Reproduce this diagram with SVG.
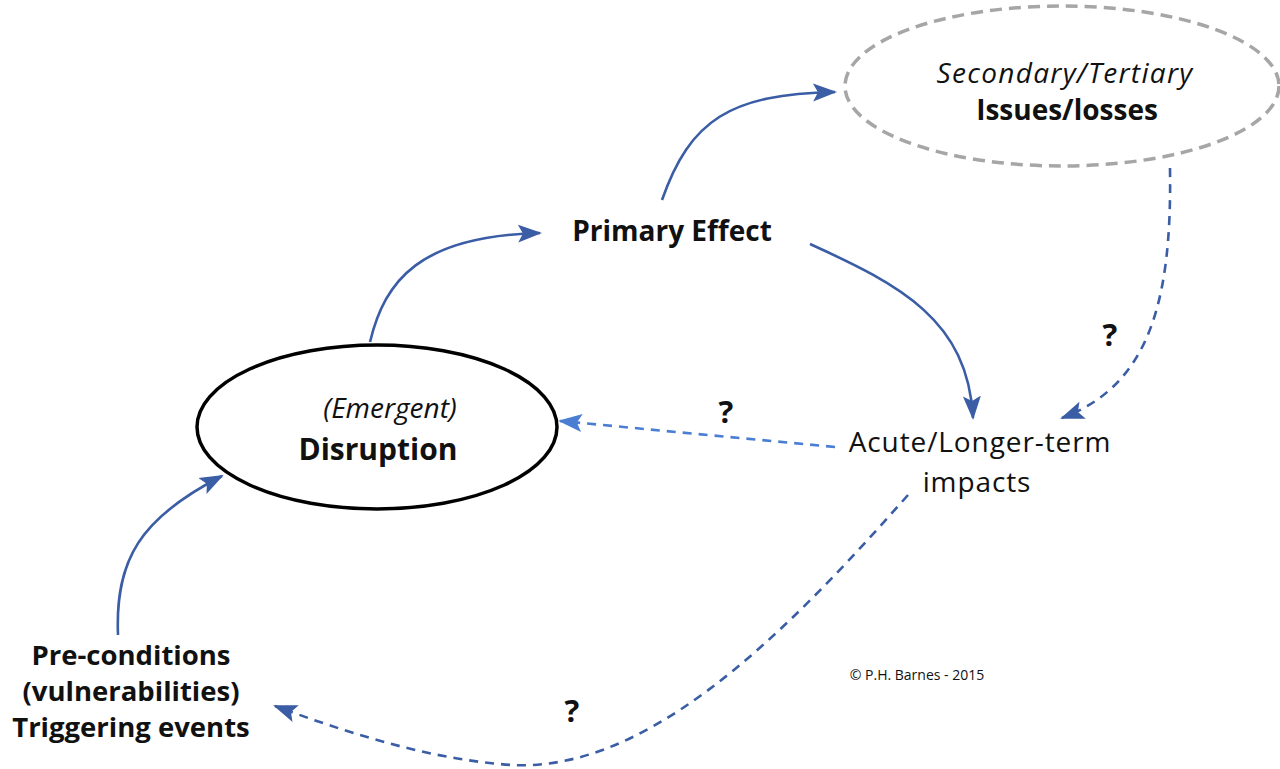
<svg xmlns="http://www.w3.org/2000/svg" width="1280" height="769" viewBox="0 0 1280 769">
<style>
.t{font-family:"Open Sans","Liberation Sans",sans-serif;fill:#111;text-anchor:middle}
.b{font-weight:bold}
.i{font-style:italic}
.c{fill:none;stroke:#3a5da5;stroke-width:2.6}
.d{stroke-dasharray:9,7}
</style>
<defs>
<marker id="ah" markerUnits="userSpaceOnUse" markerWidth="26" markerHeight="20" refX="22" refY="9" orient="auto" viewBox="0 0 26 18">
<path d="M0,0 L24,9 L0,18 L5,9 Z" fill="#3a5da5"/>
</marker>
<marker id="ah2" markerUnits="userSpaceOnUse" markerWidth="26" markerHeight="20" refX="22" refY="9" orient="auto" viewBox="0 0 26 18">
<path d="M0,0 L24,9 L0,18 L5,9 Z" fill="#4a7ed2"/>
</marker>
</defs>
<rect width="1280" height="769" fill="#fff"/>
<g id="connectors">
<path class="c" d="M370,342 C385,280 420,236 540,233" marker-end="url(#ah)"/>
<path class="c" d="M662,200 C690,120 730,94 835,92" marker-end="url(#ah)"/>
<path class="c" d="M810,244 C900,285 968,320 973,418" marker-end="url(#ah)"/>
<path class="c d" d="M1170,168 C1172,300 1150,385 1062,418" marker-end="url(#ah)"/>
<path class="c d" d="M835,447 L560,421" style="stroke:#4a7ed2" marker-end="url(#ah2)"/>
<path class="c d" d="M908,495 C780,640 640,780 500,764 C420,757 340,730 275,706" marker-end="url(#ah)"/>
<path class="c" d="M118,635 C115,560 140,518 222,476" marker-end="url(#ah)"/>
</g>
<g id="secondary">
<ellipse cx="1062" cy="86" rx="217" ry="80" fill="none" stroke="#a6a6a6" stroke-width="3.5" stroke-dasharray="12,7"/>
<text class="t i" x="1065" y="83" font-size="28" letter-spacing="1.3">Secondary/Tertiary</text>
<text class="t b" x="1067" y="120" font-size="28">Issues/losses</text>
</g>
<g id="disruption">
<ellipse cx="377" cy="427" rx="180" ry="82" fill="none" stroke="#000" stroke-width="3.5"/>
<text class="t i" x="390" y="418" font-size="28">(Emergent)</text>
<text class="t b" x="378" y="460" font-size="30">Disruption</text>
</g>
<g id="primary">
<text class="t b" x="672" y="241" font-size="28">Primary Effect</text>
</g>
<g id="impacts">
<text class="t" x="980" y="452" font-size="28" letter-spacing="0.9">Acute/Longer-term</text>
<text class="t" x="977" y="492" font-size="28" letter-spacing="0.9">impacts</text>
</g>
<g id="preconditions">
<text class="t b" x="131" y="665" font-size="27.5">Pre-conditions</text>
<text class="t b" x="131" y="701" font-size="27.5">(vulnerabilities)</text>
<text class="t b" x="131" y="737" font-size="27.5">Triggering events</text>
</g>
<g id="labels">
<text class="t b" x="1110" y="346" font-size="31">?</text>
<text class="t b" x="726" y="423" font-size="31">?</text>
<text class="t b" x="572" y="722" font-size="31">?</text>
<text class="t" x="917" y="680" font-size="14">© P.H. Barnes - 2015</text>
</g>
</svg>
